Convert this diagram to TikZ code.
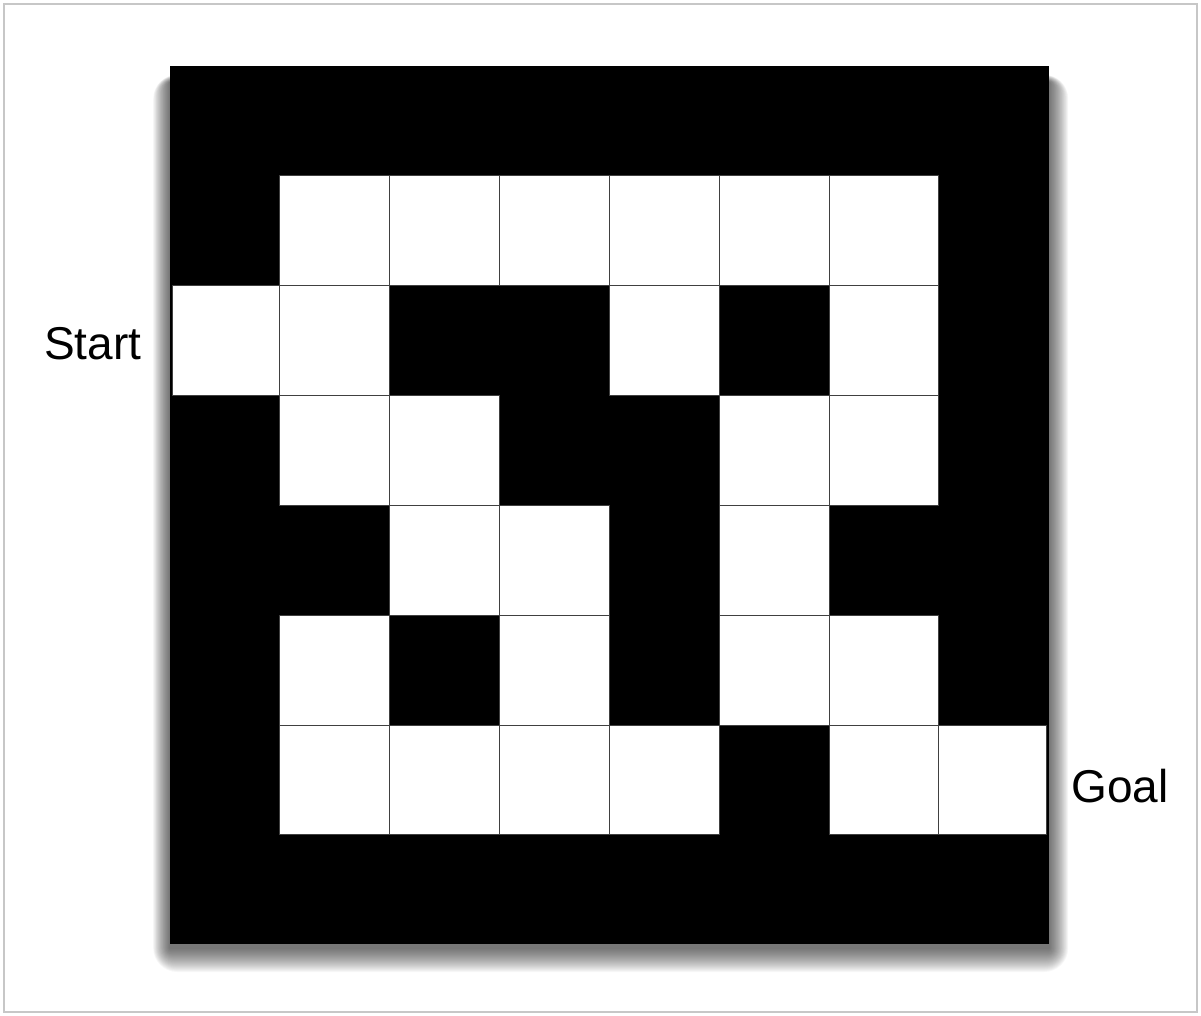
\documentclass[tikz,border=0pt]{standalone}
\usepackage{fontspec}
\setmainfont{Liberation Sans}
\begin{document}
\begin{tikzpicture}[x=1pt,y=-1pt,
  wallcell/.style={fill=black},
  opencell/.style={fill=white,draw=black!75,line width=1pt},
  lbl/.style={font=\fontsize{46}{52}\selectfont,inner sep=0pt,anchor=base west}]
\useasboundingbox (0,0) rectangle (1201,1016);
\draw[black!22,line width=1.2pt] (4,4) rectangle (1197,1012);
% soft drop shadow
\foreach \i in {1,...,24}{
  \fill[black,fill opacity=0.03,rounded corners=\i pt] (170-\i*0.7,82-\i*0.3) rectangle (1049+\i*0.8,948+\i*1.0);
}
% maze background
\fill[wallcell] (170,66) rectangle (1049,944);
\def\cs{109.85}
\foreach \c/\r in {1/1,2/1,3/1,4/1,5/1,6/1,
                   0/2,1/2,4/2,6/2,
                   1/3,2/3,5/3,6/3,
                   2/4,3/4,5/4,
                   1/5,3/5,5/5,6/5,
                   1/6,2/6,3/6,4/6,6/6,7/6}{
  \ifnum\c=0
    \draw[opencell] (172.5,66+\r*\cs) rectangle (170+\cs,66+\r*\cs+\cs);
  \else\ifnum\c=7
    \draw[opencell] (170+7*\cs,66+\r*\cs) rectangle (1046.5,66+\r*\cs+\cs);
  \else
    \draw[opencell] (170+\c*\cs,66+\r*\cs) rectangle (170+\c*\cs+\cs,66+\r*\cs+\cs);
  \fi\fi
}
\node[lbl] (start) at (44,359) {Start};
\node[lbl] (goal) at (1071,802) {Goal};
\end{tikzpicture}
\end{document}
